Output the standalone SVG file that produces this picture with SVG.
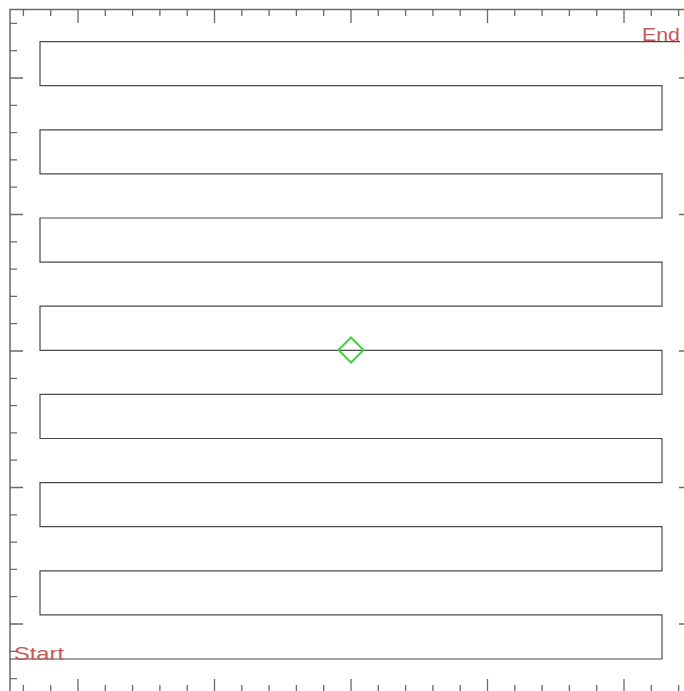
<svg xmlns="http://www.w3.org/2000/svg" width="684" height="691" viewBox="0 0 684 691">
<style>
.axis{fill:none;stroke:#6a6a6a;stroke-width:1.5}
.tick{fill:none;stroke:#6a6a6a;stroke-width:1.3}
.route{fill:none;stroke:#4a4a4a;stroke-width:1.2}
.lbl{font-family:"Liberation Sans",Arial,sans-serif;font-size:19px;fill:#c25a5a}
</style>
<rect width="684" height="691" fill="#ffffff"/>
<g id="axes">
<path class="axis" d="M10,692 V9.5 H692 V692 Z"/>
<path class="tick" d="M23.4,9.5V16 M50.7,9.5V16 M78,9.5V23 M105.3,9.5V16 M132.6,9.5V16 M159.9,9.5V16 M187.2,9.5V16 M214.5,9.5V23 M241.8,9.5V16 M269.1,9.5V16 M296.4,9.5V16 M323.7,9.5V16 M351,9.5V23 M378.3,9.5V16 M405.6,9.5V16 M432.9,9.5V16 M460.2,9.5V16 M487.5,9.5V23 M514.8,9.5V16 M542.1,9.5V16 M569.4,9.5V16 M596.7,9.5V16 M624,9.5V23 M651.3,9.5V16 M678.6,9.5V16"/>
<path class="tick" d="M23.4,692V685 M50.7,692V685 M78,692V679 M105.3,692V685 M132.6,692V685 M159.9,692V685 M187.2,692V685 M214.5,692V679 M241.8,692V685 M269.1,692V685 M296.4,692V685 M323.7,692V685 M351,692V679 M378.3,692V685 M405.6,692V685 M432.9,692V685 M460.2,692V685 M487.5,692V679 M514.8,692V685 M542.1,692V685 M569.4,692V685 M596.7,692V685 M624,692V679 M651.3,692V685 M678.6,692V685"/>
<path class="tick" d="M10,23.4H17 M10,50.7H17 M10,78H23 M10,105.3H17 M10,132.6H17 M10,159.9H17 M10,187.2H17 M10,214.5H23 M10,241.8H17 M10,269.1H17 M10,296.4H17 M10,323.7H17 M10,351H23 M10,378.3H17 M10,405.6H17 M10,432.9H17 M10,460.2H17 M10,487.5H23 M10,514.8H17 M10,542.1H17 M10,569.4H17 M10,596.7H17 M10,624H23 M10,651.3H17 M10,678.6H17"/>
<path class="tick" d="M692,23.4H685 M692,50.7H685 M692,78H679 M692,105.3H685 M692,132.6H685 M692,159.9H685 M692,187.2H685 M692,214.5H679 M692,241.8H685 M692,269.1H685 M692,296.4H685 M692,323.7H685 M692,351H679 M692,378.3H685 M692,405.6H685 M692,432.9H685 M692,460.2H685 M692,487.5H679 M692,514.8H685 M692,542.1H685 M692,569.4H685 M692,596.7H685 M692,624H679 M692,651.3H685 M692,678.6H685"/>
</g>
<g id="route">
<path class="route" d="M10,659 H662 V614.9 H40 V570.8 H662 V526.7 H40 V482.6 H662 V438.5 H40 V394.4 H662 V350.3 H40 V306.2 H662 V262.1 H40 V218 H662 V173.9 H40 V129.8 H662 V85.7 H40 V41.6 H680"/>
</g>
<g id="center-marker">
<path d="M351,337.5 L363.5,350 L351,362.5 L338.5,350 Z" fill="none" stroke="#3ad43a" stroke-width="2"/>
</g>
<g id="start-label">
<text class="lbl" x="14" y="660" textLength="50" lengthAdjust="spacingAndGlyphs">Start</text>
</g>
<g id="end-label">
<text class="lbl" x="642" y="41" textLength="38" lengthAdjust="spacingAndGlyphs">End</text>
</g>
</svg>
